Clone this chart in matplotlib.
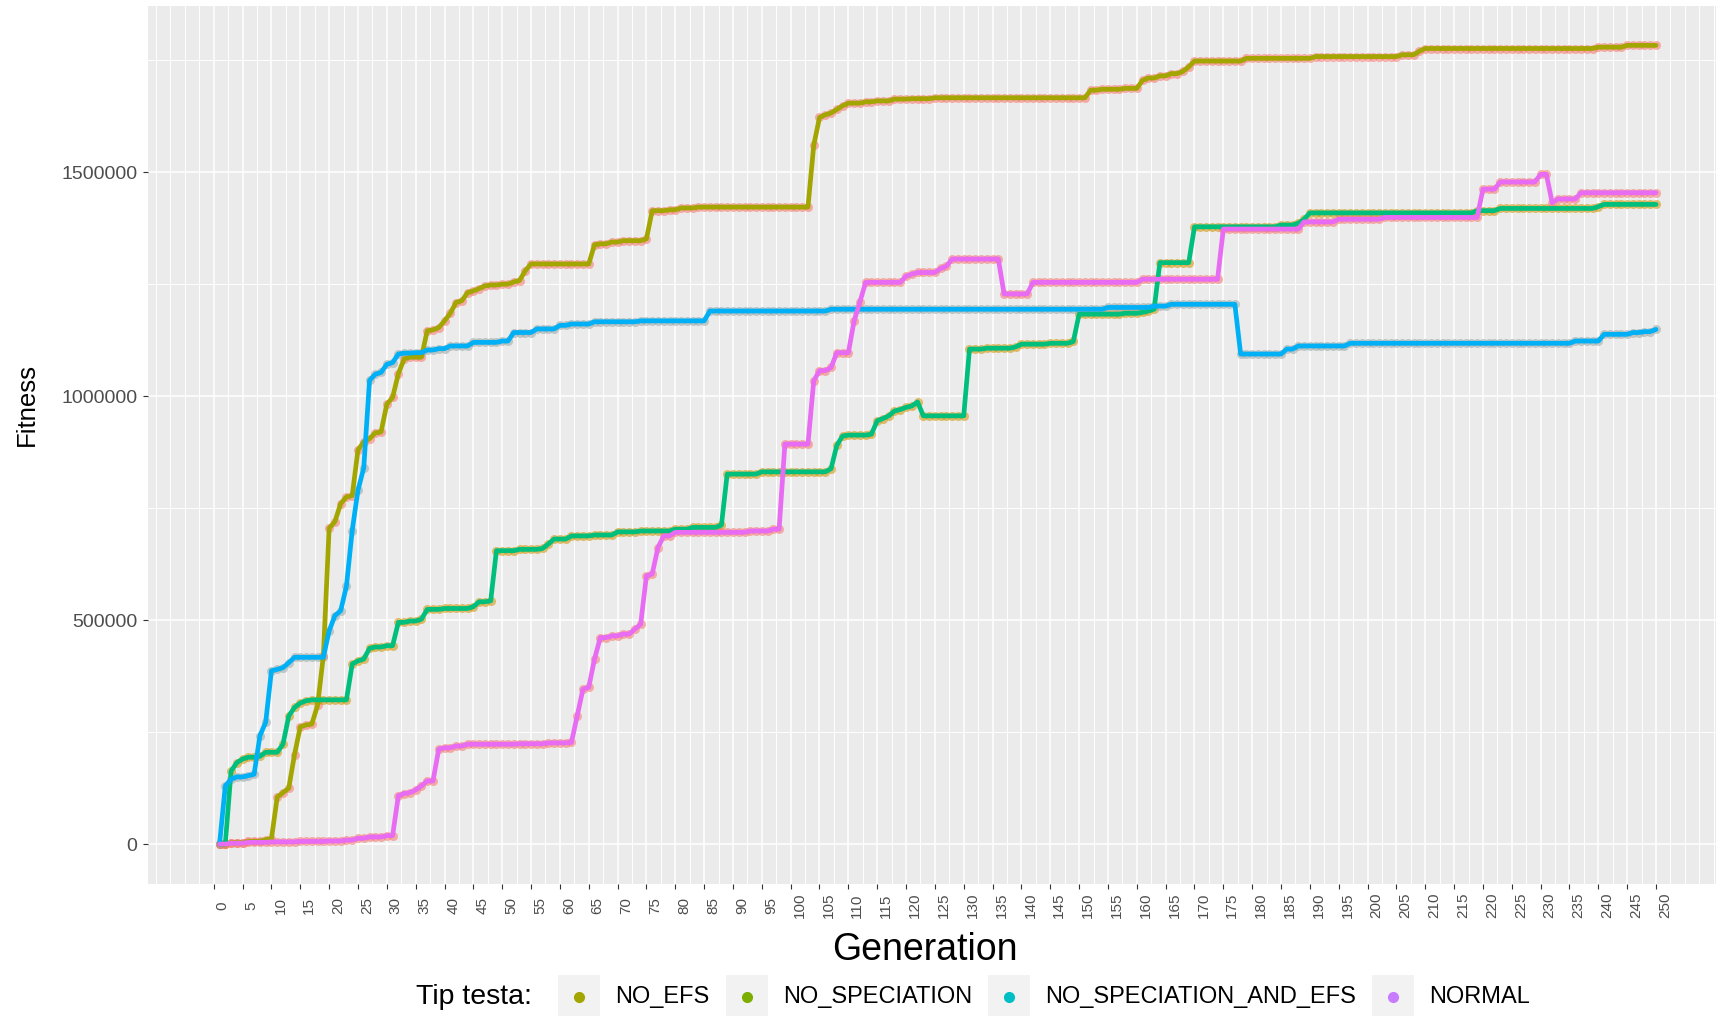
import numpy as np
import matplotlib
matplotlib.use('Agg')
import matplotlib.pyplot as plt
import matplotlib.transforms as mtransforms
from matplotlib.patches import Rectangle
from matplotlib.lines import Line2D

plt.rcParams['font.family'] = ['Liberation Sans', 'DejaVu Sans']

series = ['NO_EFS', 'NO_SPECIATION', 'NO_SPECIATION_AND_EFS', 'NORMAL']
last_gen = 250

# generation where the best fitness changes -> value kept until the next change
no_efs_gen = [1, 3, 6, 9, 10, 11, 12, 13, 14, 15, 16, 17, 18, 19, 20, 21, 22, 23, 24, 25,
              26, 27, 28, 29, 30, 31, 32, 33, 34, 37, 38, 39, 40, 41, 42, 43, 44, 45, 46, 47,
              48, 50, 52, 53, 54, 55, 66, 67, 69, 71, 75, 76, 79, 81, 84, 104, 105, 106, 107, 108,
              109, 110, 113, 115, 118, 121, 125, 152, 154, 158, 161, 162, 164, 166, 168, 169, 170, 179, 191, 206,
              209, 210, 240, 245]
no_efs_val = [0, 3000, 6000, 10000, 12000, 105000, 115000, 125000, 200000, 262000, 266000, 268000, 310000, 420000, 705000, 720000, 760000, 775000, 778000, 880000,
              898000, 905000, 918000, 920000, 982000, 997000, 1050000, 1083000, 1087000, 1146000, 1148000, 1153000, 1168000, 1185000, 1209000, 1213000, 1231000, 1235000, 1240000, 1246000,
              1248000, 1250000, 1255000, 1258000, 1280000, 1295000, 1338000, 1340000, 1344000, 1347000, 1351000, 1414000, 1416000, 1420000, 1422000, 1560000, 1622000, 1628000, 1632000, 1640000,
              1648000, 1654000, 1657000, 1659000, 1663000, 1664000, 1666000, 1683000, 1685000, 1687000, 1705000, 1710000, 1715000, 1720000, 1725000, 1735000, 1748000, 1754000, 1758000, 1762000,
              1770000, 1776000, 1779000, 1783000]

no_spec_gen = [1, 3, 4, 5, 6, 8, 9, 12, 13, 14, 15, 16, 17, 24, 25, 26, 27, 28, 30, 32,
               34, 36, 37, 40, 45, 46, 48, 49, 53, 57, 58, 59, 62, 66, 70, 74, 80, 83, 88, 89,
               95, 107, 108, 109, 110, 114, 115, 116, 117, 118, 119, 120, 121, 122, 123, 131, 134, 139, 140, 145,
               149, 150, 158, 161, 162, 163, 164, 170, 185, 188, 189, 190, 219, 223, 240, 241]
no_spec_val = [0, 163000, 182000, 190000, 194000, 196000, 205000, 223000, 286000, 305000, 315000, 320000, 322000, 402000, 409000, 413000, 437000, 440000, 443000, 495000,
               498000, 502000, 524000, 526000, 530000, 541000, 543000, 655000, 658000, 660000, 670000, 681000, 688000, 690000, 697000, 699000, 703000, 707000, 712000, 826000,
               831000, 838000, 890000, 911000, 913000, 915000, 945000, 950000, 956000, 967000, 970000, 975000, 978000, 987000, 956000, 1105000, 1107000, 1110000, 1116000, 1118000,
               1122000, 1183000, 1185000, 1187000, 1190000, 1194000, 1298000, 1378000, 1382000, 1386000, 1395000, 1409000, 1414000, 1419000, 1423000, 1428000]

no_spec_efs_gen = [1, 2, 3, 4, 6, 7, 8, 9, 10, 11, 12, 13, 14, 20, 21, 22, 23, 24, 25, 26,
                   27, 28, 29, 30, 31, 32, 33, 35, 37, 39, 41, 45, 50, 52, 56, 60, 62, 66, 74, 86,
                   107, 155, 163, 166, 178, 186, 188, 197, 236, 241, 246, 248, 250]
no_spec_efs_val = [0, 130000, 145000, 150000, 153000, 156000, 242000, 272000, 387000, 390000, 394000, 405000, 417000, 476000, 510000, 521000, 576000, 700000, 790000, 840000,
                   1035000, 1049000, 1053000, 1071000, 1075000, 1094000, 1096000, 1097000, 1103000, 1106000, 1112000, 1120000, 1123000, 1142000, 1150000, 1158000, 1161000, 1166000, 1168000, 1190000,
                   1194000, 1198000, 1201000, 1205000, 1094000, 1105000, 1112000, 1118000, 1123000, 1138000, 1142000, 1144000, 1149000]

normal_gen = [1, 3, 6, 10, 15, 20, 23, 25, 27, 30, 32, 33, 34, 35, 36, 37, 39, 40, 42, 44,
              53, 58, 62, 63, 64, 65, 66, 67, 69, 71, 73, 74, 75, 76, 77, 78, 80, 93, 97, 99,
              104, 105, 107, 108, 111, 112, 113, 120, 121, 122, 126, 127, 128, 137, 142, 161, 175, 189, 195, 203,
              220, 223, 230, 232, 233, 237]
normal_val = [0, 2000, 4000, 5000, 6000, 7000, 9000, 13000, 16000, 19000, 108000, 113000, 115000, 121000, 130000, 141000, 212000, 215000, 219000, 223000,
              224000, 226000, 227000, 286000, 346000, 350000, 413000, 461000, 465000, 469000, 480000, 491000, 599000, 603000, 662000, 688000, 696000, 699000, 703000, 893000,
              1034000, 1057000, 1064000, 1097000, 1168000, 1210000, 1254000, 1268000, 1272000, 1276000, 1285000, 1290000, 1306000, 1228000, 1254000, 1261000, 1373000, 1389000, 1395000, 1399000,
              1462000, 1478000, 1495000, 1432000, 1440000, 1454000]

line_colors = ['#A3A500', '#00BF7D', '#00B0F6', '#E76BF3']
point_colors = ['#F8766D', '#D39200', '#9AA6A6', '#F8766D']
legend_colors = ['#A3A500', '#7CAE00', '#00BFC4', '#C77CFF']


def expand(starts, vals):
    # hold each value until the generation where the next one starts
    ends = starts[1:] + [last_gen + 1]
    return np.repeat(vals, np.array(ends) - np.array(starts))


generations = np.arange(1, last_gen + 1)
data = [expand(no_efs_gen, no_efs_val), expand(no_spec_gen, no_spec_val),
        expand(no_spec_efs_gen, no_spec_efs_val), expand(normal_gen, normal_val)]

W, H = 1716, 1016
fig = plt.figure(figsize=(W / 100, H / 100), dpi=100)
ax = fig.add_axes([147.7 / W, (H - 884) / H, 1 - 147.7 / W, (884 - 5.5) / H])
ax.set_facecolor('#EBEBEB')
for s in ax.spines.values():
    s.set_visible(False)

# grid
for gx in np.arange(-10, 262, 2.5):
    major = (gx % 5 == 0) and 0 <= gx <= 250
    ax.axvline(gx, color='white', lw=1.1 if major else 0.7, zorder=0)
for gy in np.arange(0, 1900000, 250000):
    ax.axhline(gy, color='white', lw=1.1 if gy % 500000 == 0 else 0.7, zorder=0)

for i, name in enumerate(series):
    ax.plot(generations, data[i], 'o', color=point_colors[i], ms=6.5, alpha=0.55,
            markeredgewidth=0, zorder=2)
for i, name in enumerate(series):
    ax.plot(generations, data[i], '-', color=line_colors[i], lw=3.4, zorder=3,
            solid_joinstyle='round', solid_capstyle='round')

ax.set_xlim(-11.45, 260.4)
ax.set_ylim(-89000, 1872000)
ax.set_xticks(np.arange(0, 251, 5))
ax.set_yticks([0, 500000, 1000000, 1500000])
ax.set_yticklabels(['0', '500000', '1000000', '1500000'])
ax.tick_params(axis='both', colors='#333333', length=3.6, width=0.8)
ax.tick_params(axis='x', labelrotation=90, labelsize=11, labelcolor='#4D4D4D', pad=12)
ax.tick_params(axis='y', labelsize=14, labelcolor='#4D4D4D', pad=4)
offset = mtransforms.ScaledTranslation(9 / 100, 0, fig.dpi_scale_trans)
for lbl in ax.get_xticklabels():
    lbl.set_va('center')
    lbl.set_transform(lbl.get_transform() + offset)

fig.text(925 / W, 1 - 950 / H, 'Generation', fontsize=27, ha='center', va='center')
fig.text(27 / W, 1 - 405 / H, 'Fitness', fontsize=18.5, rotation=90, ha='center', va='center')

# legend at the bottom
cy = 997
fig.text(416 / W, 1 - cy / H, 'Tip testa:', fontsize=20.5, ha='left', va='center')
key_x = [558, 726, 988, 1372]
for i, name in enumerate(series):
    kx = key_x[i]
    fig.add_artist(Rectangle((kx / W, 1 - 1016 / H), 42 / W, 41 / H, transform=fig.transFigure,
                             facecolor='#F2F2F2', edgecolor='none'))
    fig.add_artist(Line2D([(kx + 21) / W], [1 - cy / H], marker='o', ms=7, color=legend_colors[i],
                          lw=0, transform=fig.transFigure))
    fig.text((kx + 57) / W, 1 - cy / H, name, fontsize=17, ha='left', va='center')

plt.savefig('out.png', dpi=100)
